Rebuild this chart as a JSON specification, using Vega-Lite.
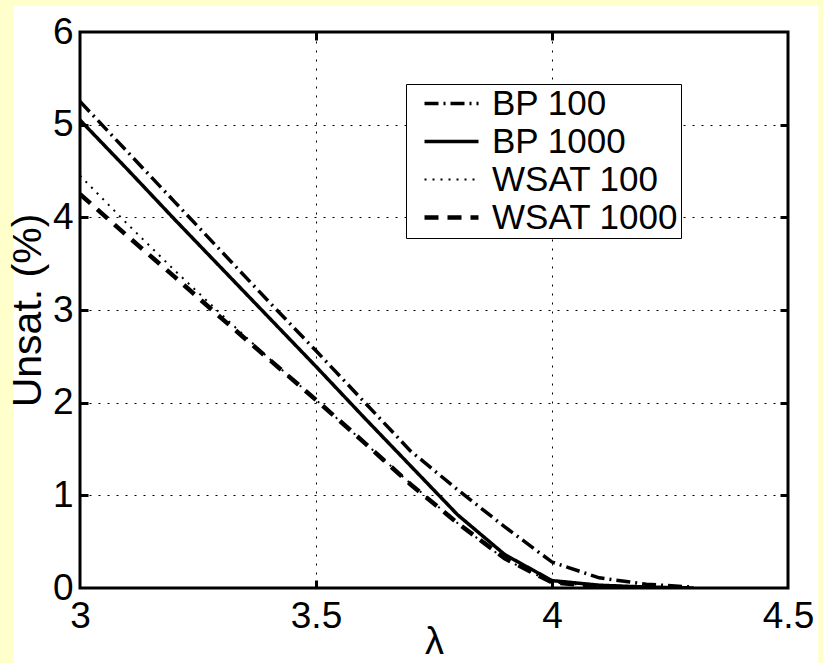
{
  "$schema": "https://vega.github.io/schema/vega-lite/v6.json",
  "width": 708,
  "height": 556,
  "autosize": "none",
  "padding": {"left": 80, "top": 32, "right": 35, "bottom": 75},
  "background": "#FFFFCC",
  "config": {"view": {"stroke": null}, "font": "Liberation Sans"},
  "datasets": {
    "curves": [
      {"lam": 3.0, "v": 5.25, "s": "BP 100"},
      {"lam": 3.1, "v": 4.71, "s": "BP 100"},
      {"lam": 3.2, "v": 4.17, "s": "BP 100"},
      {"lam": 3.3, "v": 3.63, "s": "BP 100"},
      {"lam": 3.4, "v": 3.09, "s": "BP 100"},
      {"lam": 3.5, "v": 2.56, "s": "BP 100"},
      {"lam": 3.6, "v": 2.02, "s": "BP 100"},
      {"lam": 3.7, "v": 1.48, "s": "BP 100"},
      {"lam": 3.8, "v": 1.06, "s": "BP 100"},
      {"lam": 3.9, "v": 0.66, "s": "BP 100"},
      {"lam": 4.0, "v": 0.28, "s": "BP 100"},
      {"lam": 4.1, "v": 0.11, "s": "BP 100"},
      {"lam": 4.2, "v": 0.04, "s": "BP 100"},
      {"lam": 4.3, "v": 0.01, "s": "BP 100"},
      {"lam": 3.0, "v": 5.05, "s": "BP 1000"},
      {"lam": 3.1, "v": 4.52, "s": "BP 1000"},
      {"lam": 3.2, "v": 3.98, "s": "BP 1000"},
      {"lam": 3.3, "v": 3.45, "s": "BP 1000"},
      {"lam": 3.4, "v": 2.92, "s": "BP 1000"},
      {"lam": 3.5, "v": 2.39, "s": "BP 1000"},
      {"lam": 3.6, "v": 1.85, "s": "BP 1000"},
      {"lam": 3.7, "v": 1.32, "s": "BP 1000"},
      {"lam": 3.8, "v": 0.79, "s": "BP 1000"},
      {"lam": 3.9, "v": 0.36, "s": "BP 1000"},
      {"lam": 4.0, "v": 0.08, "s": "BP 1000"},
      {"lam": 4.1, "v": 0.03, "s": "BP 1000"},
      {"lam": 4.2, "v": 0.01, "s": "BP 1000"},
      {"lam": 4.3, "v": 0.0, "s": "BP 1000"},
      {"lam": 3.0, "v": 4.45, "s": "WSAT 100"},
      {"lam": 3.1, "v": 3.93, "s": "WSAT 100"},
      {"lam": 3.2, "v": 3.43, "s": "WSAT 100"},
      {"lam": 3.3, "v": 2.95, "s": "WSAT 100"},
      {"lam": 3.4, "v": 2.48, "s": "WSAT 100"},
      {"lam": 3.5, "v": 2.03, "s": "WSAT 100"},
      {"lam": 3.6, "v": 1.58, "s": "WSAT 100"},
      {"lam": 3.7, "v": 1.13, "s": "WSAT 100"},
      {"lam": 3.8, "v": 0.70, "s": "WSAT 100"},
      {"lam": 3.9, "v": 0.31, "s": "WSAT 100"},
      {"lam": 4.0, "v": 0.06, "s": "WSAT 100"},
      {"lam": 4.1, "v": 0.02, "s": "WSAT 100"},
      {"lam": 4.2, "v": 0.0, "s": "WSAT 100"},
      {"lam": 3.0, "v": 4.25, "s": "WSAT 1000"},
      {"lam": 3.1, "v": 3.80, "s": "WSAT 1000"},
      {"lam": 3.2, "v": 3.36, "s": "WSAT 1000"},
      {"lam": 3.3, "v": 2.91, "s": "WSAT 1000"},
      {"lam": 3.4, "v": 2.47, "s": "WSAT 1000"},
      {"lam": 3.5, "v": 2.03, "s": "WSAT 1000"},
      {"lam": 3.6, "v": 1.58, "s": "WSAT 1000"},
      {"lam": 3.7, "v": 1.12, "s": "WSAT 1000"},
      {"lam": 3.8, "v": 0.70, "s": "WSAT 1000"},
      {"lam": 3.9, "v": 0.32, "s": "WSAT 1000"},
      {"lam": 4.0, "v": 0.06, "s": "WSAT 1000"},
      {"lam": 4.1, "v": 0.02, "s": "WSAT 1000"},
      {"lam": 4.2, "v": 0.0, "s": "WSAT 1000"}
    ]
  },
  "layer": [
    {
      "data": {"values": [{}]},
      "mark": {"type": "rect", "fill": "white", "clip": false},
      "encoding": {
        "x": {"datum": 2.86, "type": "quantitative", "axis": null},
        "x2": {"datum": 4.564},
        "y": {"datum": 6.28, "type": "quantitative", "axis": null},
        "y2": {"datum": -0.81}
      }
    },
    {
      "data": {"values": [{}]},
      "mark": {"type": "rect", "fill": null, "fillOpacity": 0, "stroke": "black", "strokeWidth": 3, "clip": false},
      "encoding": {
        "x": {"datum": 3, "type": "quantitative", "axis": null},
        "x2": {"datum": 4.5},
        "y": {"datum": 6, "type": "quantitative", "axis": null},
        "y2": {"datum": 0}
      }
    },
    {
      "data": {"name": "curves"},
      "mark": {"type": "line", "color": "black", "clip": true},
      "encoding": {
        "x": {
          "field": "lam", "type": "quantitative",
          "scale": {"domain": [3, 4.5], "nice": false, "zero": false},
          "axis": {
            "orient": "bottom", "values": [3, 3.5, 4, 4.5], "format": "~g",
            "grid": true, "gridColor": "black", "gridDash": [2, 7], "gridWidth": 1,
            "ticks": false, "domain": false,
            "labelFontSize": 37, "labelColor": "black", "labelPadding": 10, "labelFlush": false,
            "title": "λ", "titleFontSize": 38, "titleFontWeight": "normal", "titleColor": "black", "titlePadding": -11,
            "zindex": 1
          }
        },
        "y": {
          "field": "v", "type": "quantitative",
          "scale": {"domain": [0, 6], "nice": false},
          "axis": {
            "orient": "left", "values": [0, 1, 2, 3, 4, 5, 6], "format": "d",
            "grid": true, "gridColor": "black", "gridDash": [2, 7], "gridWidth": 1,
            "ticks": false, "domain": false,
            "labelFontSize": 37, "labelColor": "black", "labelPadding": 7, "labelFlush": false,
            "title": "Unsat. (%)", "titleFontSize": 41, "titleFontWeight": "normal", "titleColor": "black", "titlePadding": 3,
            "zindex": 1
          }
        },
        "strokeDash": {
          "field": "s", "type": "nominal",
          "scale": {"domain": ["BP 100", "BP 1000", "WSAT 100", "WSAT 1000"], "range": [[14, 5, 2, 5], [1, 0], [2, 6], [14, 9]]},
          "legend": {
            "orient": "none", "legendX": 326, "legendY": 52, "title": null,
            "symbolType": "M-2,0H2", "symbolSize": 729, "symbolStrokeColor": "black",
            "labelFontSize": 35, "labelColor": "black", "labelLimit": 400,
            "strokeColor": "black", "fillColor": "white", "padding": 2,
            "symbolOffset": 26, "labelOffset": 23, "rowPadding": 2, "zindex": 2
          }
        },
        "strokeWidth": {
          "field": "s", "type": "nominal",
          "scale": {"type": "ordinal", "domain": ["BP 100", "BP 1000", "WSAT 100", "WSAT 1000"], "range": [3.5, 3.5, 2, 4.5]},
          "legend": {
            "orient": "none", "legendX": 326, "legendY": 52, "title": null,
            "symbolType": "M-2,0H2", "symbolSize": 729, "symbolStrokeColor": "black",
            "labelFontSize": 35, "labelColor": "black", "labelLimit": 400,
            "strokeColor": "black", "fillColor": "white", "padding": 2,
            "symbolOffset": 26, "labelOffset": 23, "rowPadding": 2, "zindex": 2
          }
        }
      }
    },
    {
      "data": {"name": "curves"},
      "mark": {"type": "line", "opacity": 0},
      "encoding": {
        "x": {
          "field": "lam", "type": "quantitative",
          "axis": {
            "orient": "top", "offset": -8, "values": [3.5, 4], "labels": false, "grid": false, "title": null,
            "tickSize": 8, "tickWidth": 3, "tickColor": "black", "domain": false, "zindex": 1
          }
        },
        "y": {
          "field": "v", "type": "quantitative",
          "axis": {
            "orient": "right", "offset": -8, "values": [1, 2, 3, 4, 5], "labels": false, "grid": false, "title": null,
            "tickSize": 8, "tickWidth": 3, "tickColor": "black", "domain": false, "zindex": 1
          }
        },
        "detail": {"field": "s"}
      }
    },
    {
      "data": {"name": "curves"},
      "mark": {"type": "line", "opacity": 0},
      "encoding": {
        "x": {
          "field": "lam", "type": "quantitative",
          "axis": {
            "orient": "bottom", "offset": -8, "values": [3.5, 4], "labels": false, "grid": false, "title": null,
            "tickSize": 8, "tickWidth": 3, "tickColor": "black", "domain": false, "zindex": 1
          }
        },
        "y": {
          "field": "v", "type": "quantitative",
          "axis": {
            "orient": "left", "offset": -8, "values": [1, 2, 3, 4, 5], "labels": false, "grid": false, "title": null,
            "tickSize": 8, "tickWidth": 3, "tickColor": "black", "domain": false, "zindex": 1
          }
        },
        "detail": {"field": "s"}
      }
    }
  ],
  "resolve": {"axis": {"x": "independent", "y": "independent"}}
}
